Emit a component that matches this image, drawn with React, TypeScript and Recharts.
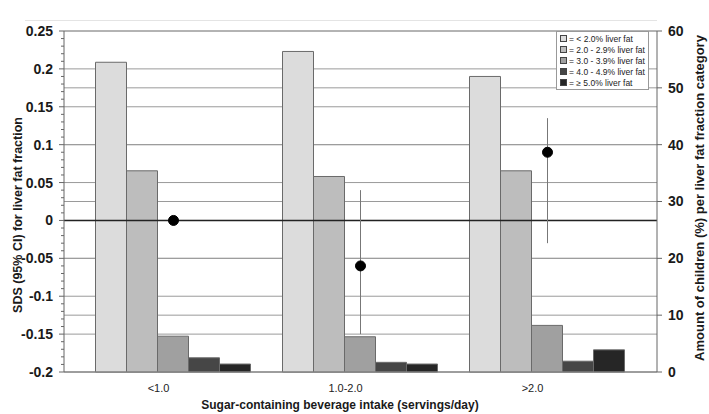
import {
  ComposedChart,
  Bar,
  Line,
  ErrorBar,
  XAxis,
  YAxis,
  CartesianGrid,
  ReferenceLine,
  Legend,
} from 'recharts';

const categories = ['<1.0', '1.0-2.0', '>2.0'];

// amount of children (%) per liver fat category, right axis
const fatUnder2 = [54.5, 56.4, 52.0];
const fat2to3 = [35.4, 34.4, 35.4];
const fat3to4 = [6.3, 6.2, 8.2];
const fat4to5 = [2.5, 1.7, 1.9];
const fatOver5 = [1.4, 1.4, 3.9];

// SDS for liver fat fraction with 95% CI, left axis
const sds = [0, -0.06, 0.09];
const sdsLow = [0, -0.15, -0.03];
const sdsHigh = [0, 0.04, 0.135];

const leftMajor = [-0.2, -0.15, -0.1, -0.05, 0, 0.05, 0.1, 0.15, 0.2, 0.25];
const rightTicks = [0, 10, 20, 30, 40, 50, 60];

const fatNames = [
  '= < 2.0% liver fat',
  '= 2.0 - 2.9% liver fat',
  '= 3.0 - 3.9% liver fat',
  '= 4.0 - 4.9% liver fat',
  '= \u2265 5.0% liver fat',
];
const fatColors = ['#dcdcdc', '#bdbdbd', '#a0a0a0', '#464646', '#262626'];
const fatKeys = ['f1', 'f2', 'f3', 'f4', 'f5'];

// minor ticks every 0.01 on the left axis
const leftTicks: number[] = [];
for (let i = -20; i <= 25; i++) leftTicks.push(i / 100);

const data = categories.map((cat, i) => ({
  cat,
  f1: fatUnder2[i],
  f2: fat2to3[i],
  f3: fat3to4[i],
  f4: fat4to5[i],
  f5: fatOver5[i],
  sds: sds[i],
  err: [sds[i] - sdsLow[i], sdsHigh[i] - sds[i]],
}));

const font = '"Liberation Sans", Arial, sans-serif';

const LeftTick = (props: any) => {
  const { x, y, payload } = props;
  const v = payload.value;
  const major = Math.round(v * 100) % 5 === 0;
  return (
    <g>
      <line x1={x - (major ? 5 : 3)} x2={x} y1={y} y2={y} stroke="#666" />
      {major && (
        <text
          x={x - 11}
          y={y}
          dy={5}
          textAnchor="end"
          fontSize={14}
          fontWeight="bold"
          fill="#1a1a1a"
          fontFamily={font}
        >
          {String(v)}
        </text>
      )}
    </g>
  );
};

const FatLegend = () => (
  <div
    style={{
      display: 'inline-block',
      border: '1px solid #999',
      background: '#fff',
      padding: '1px 3px',
      fontFamily: font,
      fontSize: 8.5,
      color: '#222',
      whiteSpace: 'nowrap',
    }}
  >
    {fatNames.map((n, i) => (
      <div key={n} style={{ display: 'flex', alignItems: 'center', height: 11 }}>
        <span
          style={{
            display: 'inline-block',
            width: 5,
            height: 5,
            background: fatColors[i],
            border: '1px solid #444',
            marginRight: 2,
          }}
        />
        {n}
      </div>
    ))}
  </div>
);

export default function App() {
  return (
    <div
      style={{
        position: 'absolute',
        left: 0,
        top: 0,
        width: 709,
        height: 414,
        background: '#fff',
        fontFamily: font,
      }}
    >
      <div
        style={{
          position: 'absolute',
          left: 25,
          top: 20,
          width: 632,
          borderTop: '1px solid #e4e4e4',
        }}
      />
      <ComposedChart
        width={709}
        height={414}
        data={data}
        margin={{ top: 31, right: 0, bottom: 0, left: 0 }}
        barCategoryGap={15.5}
        barGap={0}
      >
        <CartesianGrid
          yAxisId="left"
          vertical={false}
          horizontalValues={leftMajor}
          stroke="#9a9a9a"
        />
        <CartesianGrid
          yAxisId="right"
          vertical={false}
          horizontalValues={rightTicks}
          stroke="#9a9a9a"
        />
        <XAxis
          dataKey="cat"
          padding={{ left: 16, right: 16 }}
          height={42}
          tickLine={false}
          axisLine={{ stroke: '#888' }}
          tick={{ fontSize: 11, fill: '#222', dx: -15 }}
          tickMargin={6}
        />
        <YAxis
          yAxisId="left"
          width={64}
          domain={[-0.2, 0.25]}
          ticks={leftTicks}
          interval={0}
          tickSize={0}
          tickMargin={0}
          tickLine={false}
          axisLine={{ stroke: '#666' }}
          tick={<LeftTick />}
          allowDataOverflow
        />
        <YAxis
          yAxisId="right"
          orientation="right"
          width={52}
          domain={[0, 60]}
          ticks={rightTicks}
          interval={0}
          tickSize={5}
          tickMargin={6}
          tickLine={{ stroke: '#666' }}
          axisLine={{ stroke: '#666' }}
          tick={{ fontSize: 14, fontWeight: 'bold', fill: '#1a1a1a' }}
        />
        {fatKeys.map((k, i) => (
          <Bar
            key={k}
            yAxisId="right"
            dataKey={k}
            name={fatNames[i]}
            fill={fatColors[i]}
            stroke="#6a6a6a"
            strokeWidth={1}
            isAnimationActive={false}
          />
        ))}
        <ReferenceLine yAxisId="left" y={0} stroke="#222" strokeWidth={1.5} />
        <Line
          yAxisId="left"
          dataKey="sds"
          stroke="none"
          dot={{ r: 5, fill: '#000', stroke: '#000' }}
          activeDot={false}
          legendType="none"
          isAnimationActive={false}
        >
          <ErrorBar dataKey="err" width={0} stroke="#777" strokeWidth={1} direction="y" />
        </Line>
        <Legend
          layout="vertical"
          align="center"
          verticalAlign="middle"
          content={<FatLegend />}
          wrapperStyle={{ left: 556, top: 31, width: 100, height: 60 }}
        />
      </ComposedChart>
      <svg
        width={709}
        height={414}
        style={{ position: 'absolute', left: 0, top: 0, pointerEvents: 'none' }}
      >
        <text
          transform="translate(18,215) rotate(-90)"
          textAnchor="middle"
          dominantBaseline="central"
          fontSize={12.5}
          fontWeight="bold"
          fill="#1a1a1a"
          fontFamily={font}
        >
          SDS (95% CI) for liver fat fraction
        </text>
        <text
          transform="translate(699,198) rotate(-90)"
          textAnchor="middle"
          dominantBaseline="central"
          fontSize={13}
          fontWeight="bold"
          fill="#1a1a1a"
          fontFamily={font}
        >
          Amount of children (%) per liver fat fraction category
        </text>
        <text
          x={340}
          y={409}
          textAnchor="middle"
          fontSize={12}
          fontWeight="bold"
          fill="#1a1a1a"
          fontFamily={font}
        >
          Sugar-containing beverage intake (servings/day)
        </text>
      </svg>
    </div>
  );
}
